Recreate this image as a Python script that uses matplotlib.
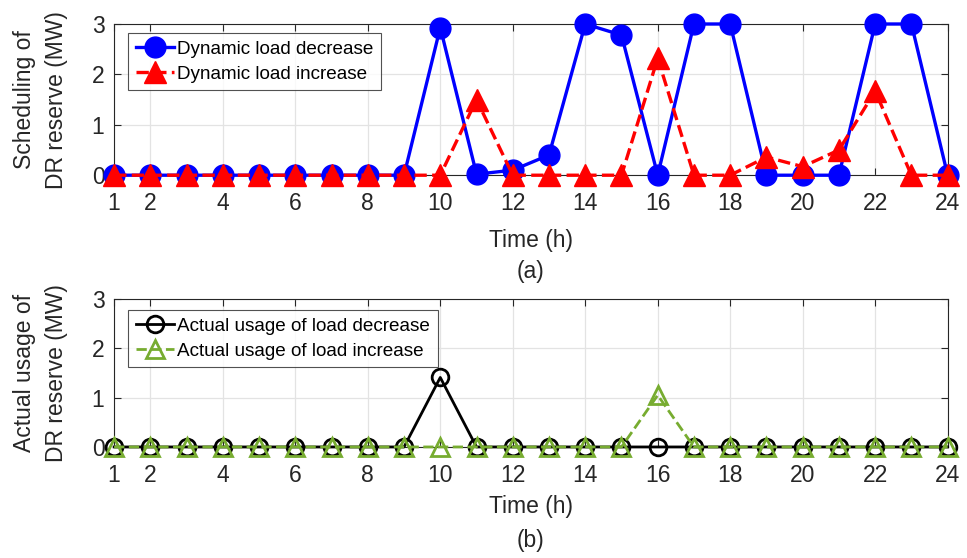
import numpy as np
import matplotlib
matplotlib.use('Agg')
import matplotlib.pyplot as plt

plt.rcParams['font.family'] = ['Liberation Sans', 'DejaVu Sans']

hours = np.arange(1, 25)
xticks = [1, 2, 4, 6, 8, 10, 12, 14, 16, 18, 20, 22, 24]

# scheduling of DR reserve (MW)
sched_dec = [0, 0, 0, 0, 0, 0, 0, 0, 0, 2.93, 0.02, 0.1, 0.4, 3.0, 2.78, 0,
             3.0, 3.0, 0, 0, 0, 3.0, 3.0, 0]
sched_inc = [0, 0, 0, 0, 0, 0, 0, 0, 0, 0, 1.5, 0, 0, 0, 0, 2.32,
             0, 0, 0.36, 0.17, 0.5, 1.67, 0, 0]

# actual usage of DR reserve (MW)
usage_dec = [0, 0, 0, 0, 0, 0, 0, 0, 0, 1.41, 0, 0, 0, 0, 0, 0,
             0, 0, 0, 0, 0, 0, 0, 0]
usage_inc = [0, 0, 0, 0, 0, 0, 0, 0, 0, 0, 0, 0, 0, 0, 0, 1.05,
             0, 0, 0, 0, 0, 0, 0, 0]

txt = '#262626'
green = '#77ac30'

fig = plt.figure(figsize=(9.67, 5.58), dpi=100)
ax1 = fig.add_axes([0.118, 0.686, 0.862, 0.271])
ax2 = fig.add_axes([0.118, 0.199, 0.862, 0.265])


def style(ax, ylabel, tag, xlpad):
    ax.set_xlim(1, 24)
    ax.set_ylim(0, 3)
    ax.set_xticks(xticks)
    ax.set_yticks([0, 1, 2, 3])
    ax.tick_params(direction='in', top=True, right=True, labelsize=16.5,
                   colors=txt, length=5)
    ax.tick_params(axis='x', pad=12)
    ax.tick_params(axis='y', pad=7)
    ax.grid(True, color='#e3e3e3', lw=0.9)
    ax.set_axisbelow(True)
    for s in ax.spines.values():
        s.set_color('#262626')
        s.set_linewidth(0.8)
    ax.set_ylabel(ylabel, fontsize=16.5, color=txt, linespacing=1.5)
    ax.yaxis.set_label_coords(-0.055, 0.5)
    ax.set_xlabel('Time (h)', fontsize=16.5, color=txt, labelpad=xlpad)
    ax.text(0.5, -0.635, tag, transform=ax.transAxes, ha='center',
            va='center', fontsize=16.5, color=txt)


def legend(ax, y):
    leg = ax.legend(loc='upper left', bbox_to_anchor=(0.017, y),
                    fontsize=13.6, frameon=True, fancybox=False,
                    edgecolor='#262626', handlelength=2.0, handletextpad=0.2,
                    borderpad=0.4, labelspacing=0.4, borderaxespad=0)
    leg.get_frame().set_linewidth(0.8)


ax1.plot(hours, sched_dec, '-o', color='b', lw=2.4, ms=15, mfc='b', mec='b',
         clip_on=False, zorder=3, label='Dynamic load decrease')
ax1.plot(hours, sched_inc, '--^', color='r', lw=2.4, ms=16, mfc='r', mec='r',
         clip_on=False, zorder=4, label='Dynamic load increase')
style(ax1, 'Scheduling of\nDR reserve (MW)', '(a)', 10)
legend(ax1, 0.94)

ax2.plot(hours, usage_dec, '-o', color='k', lw=2, ms=12, mfc='none', mec='k',
         mew=2, clip_on=False, zorder=3, label='Actual usage of load decrease')
ax2.plot(hours, usage_inc, '--^', color=green, lw=2, ms=13, mfc='none',
         mec=green, mew=2, clip_on=False, zorder=4,
         label='Actual usage of load increase')
style(ax2, 'Actual usage of\nDR reserve (MW)', '(b)', 6)
legend(ax2, 0.926)

fig.savefig('out.png', dpi=100)
